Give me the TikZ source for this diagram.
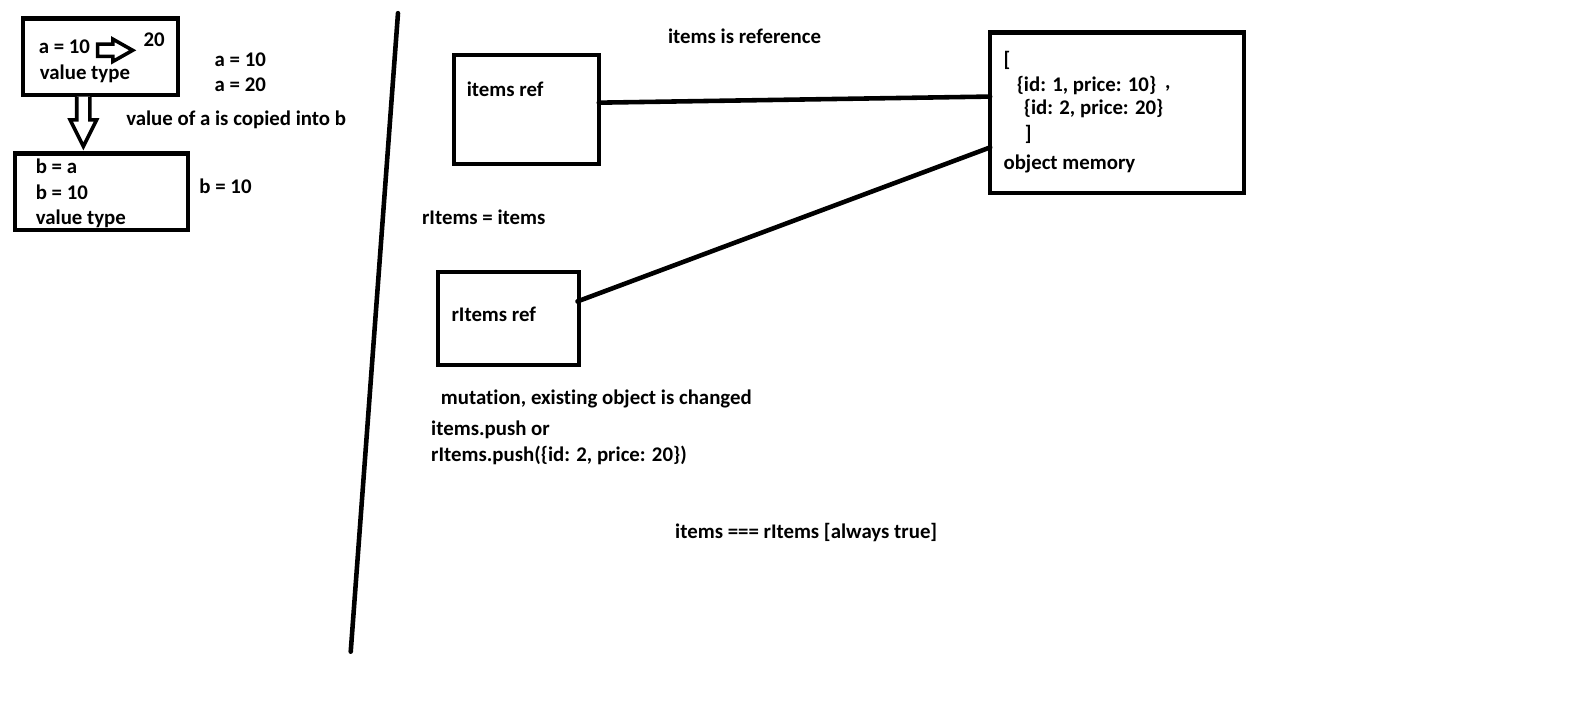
\documentclass[tikz,border=0pt]{standalone}
\usepackage{fontspec}
\setmainfont{Carlito}[RawFeature={-liga}]
\begin{document}
\begin{tikzpicture}[x=1pt,y=-1pt,
  box/.style={draw,line width=4pt,rectangle,inner sep=0pt,outer sep=0pt},
  lbl/.style={anchor=base west,inner sep=0pt,font=\fontsize{20.5}{24}\selectfont\bfseries},
  conn/.style={line width=4.5pt,line cap=round},
  hollow/.style={draw,line width=3.5pt,line join=miter,fill=white}]
\useasboundingbox[fill=white] (0,0) rectangle (1568,711);
% left part
\node[box,minimum width=153pt,minimum height=75pt] (A) at (98.7,55.7) {};
\node[box,minimum width=170pt,minimum height=75pt] (B) at (100,188.5) {};
\node[lbl] (a10) at (38,53) {a = 10};
\node[lbl] (a20v) at (141,46) {20};
\node[lbl] (avt) at (39,78) {value type};
\draw[hollow] (96,43.5) -- (111,43.5) -- (111,38.5) -- (130.5,49.5) -- (111,60.5) -- (111,55.5) -- (96,55.5) -- cycle;
\draw[hollow] (75.5,95) -- (75.5,118) -- (69,118) -- (82,144) -- (95,118) -- (88.5,118) -- (88.5,95);
\node[lbl] (ra10) at (211,65) {a = 10};
\node[lbl] (ra20) at (211,90) {a = 20};
\node[lbl] (copied) at (124,123) {value of a is copied into b};
\node[lbl] (ba) at (35,171) {b = a};
\node[lbl] (b10) at (35,196) {b = 10};
\node[lbl] (bvt) at (35,221) {value type};
\node[lbl] (rb10) at (196,190) {b = 10};
% divider
\coordinate (d1) at (391.5,13);
\coordinate (d2) at (345,641);
\draw[conn] (d1) -- (d2);
% right part
\node[lbl] (isref) at (657,43) {items is reference};
\node[box,minimum width=142pt,minimum height=107pt] (iref) at (518,107.5) {};
\node[lbl] (ireft) at (459,95) {items ref};
\node[box,minimum width=250pt,minimum height=158pt] (obj) at (1099,111) {};
\node[lbl] (o1) at (987,65) {[};
\node[lbl] (o2) at (1000,90) {\{id: 1, price: 10\}};
\node[lbl] (o2c) at (1146,87) {,};
\node[lbl] (o3) at (1007,113) {\{id: 2, price: 20\}};
\node[lbl] (o4) at (1008,138) {]};
\node[lbl] (o5) at (987,167) {object memory};
\node[lbl] (req) at (415,221) {rItems = items};
\node[box,minimum width=139pt,minimum height=91pt] (rref) at (500.5,313.5) {};
\node[lbl] (rreft) at (444,316.5) {rItems ref};
\node[lbl] (mut) at (433.5,398) {mutation, existing object is changed};
\node[lbl] (push1) at (424,428) {items.push or};
\node[lbl] (push2) at (424,454) {rItems.push(\{id: 2, price: 20\})};
\node[lbl] (eq) at (664,530) {items === rItems [always true]};
% connectors
\draw[conn] ([yshift=6.5pt]iref.east) -- ([yshift=16pt]obj.west);
\draw[conn] ([xshift=-2pt,yshift=17pt]rref.east) -- ([yshift=-34pt]obj.west);
\end{tikzpicture}
\end{document}
